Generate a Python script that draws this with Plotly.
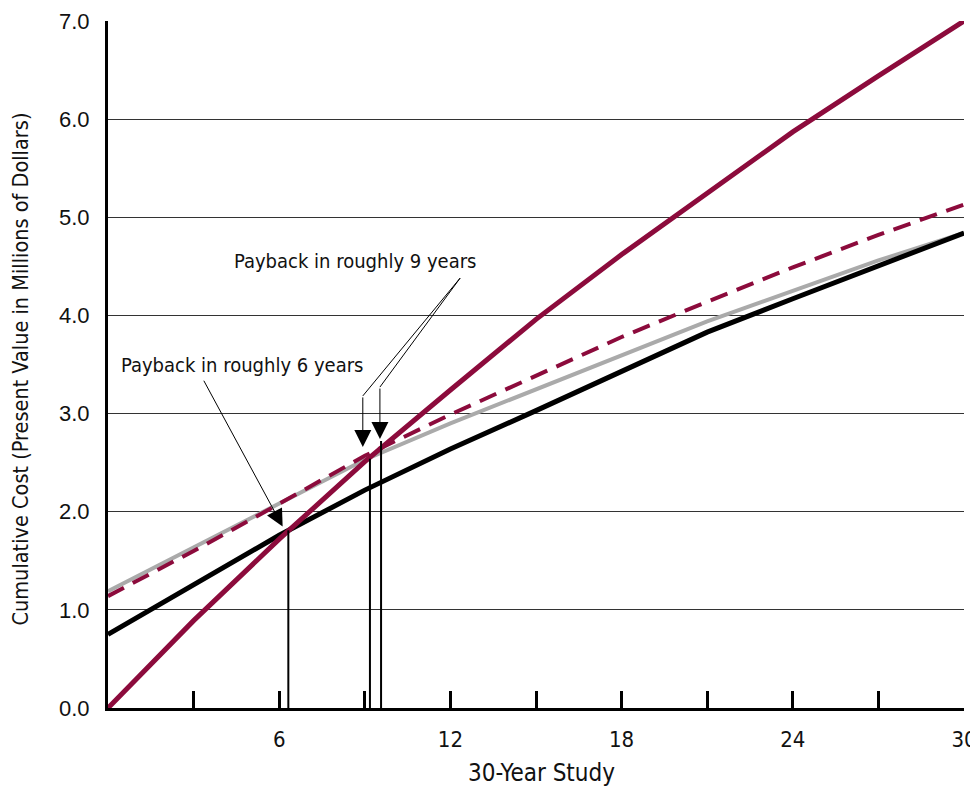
import plotly.graph_objects as go

# ---- data ----
years = [0, 3, 6, 9, 12, 15, 18, 21, 24, 27, 30]
red_solid = [0.00, 0.89, 1.72, 2.51, 3.24, 3.96, 4.62, 5.25, 5.87, 6.44, 7.00]
red_dashed = [1.14, 1.60, 2.08, 2.57, 2.99, 3.38, 3.78, 4.14, 4.49, 4.82, 5.13]
gray_solid = [1.19, 1.64, 2.08, 2.53, 2.90, 3.25, 3.60, 3.94, 4.25, 4.56, 4.84]
black_solid = [0.75, 1.26, 1.76, 2.22, 2.64, 3.03, 3.43, 3.83, 4.17, 4.50, 4.84]

x_tickvals = [3, 6, 9, 12, 15, 18, 21, 24, 27, 30]
x_ticktext = ["", "6", "", "12", "", "18", "", "24", "", "30"]
y_tickvals = [0, 1, 2, 3, 4, 5, 6, 7]
y_ticktext = ["0.0", "1.0", "2.0", "3.0", "4.0", "5.0", "6.0", "7.0"]

payback_years = [6.32, 9.18, 9.57]
payback_heights = [1.81, 2.54, 2.72]

x_title = "30-Year Study"
y_title = "Cumulative Cost (Present Value in Millions of Dollars)"
note6 = "Payback in roughly 6 years"
note9 = "Payback in roughly 9 years"

RED = "#8C0B3C"
NARROW = "DejaVu Sans Condensed, sans-serif"

fig = go.Figure()
fig.add_trace(go.Scatter(x=years, y=gray_solid, mode="lines",
                         line=dict(color="#AAAAAA", width=4)))
fig.add_trace(go.Scatter(x=years, y=red_dashed, mode="lines",
                         line=dict(color=RED, width=4, dash="18px,10px")))
fig.add_trace(go.Scatter(x=years, y=black_solid, mode="lines",
                         line=dict(color="black", width=5)))
fig.add_trace(go.Scatter(x=years, y=red_solid, mode="lines",
                         line=dict(color=RED, width=5)))

shapes = []
for px_, ph in zip(payback_years, payback_heights):
    shapes.append(dict(type="line", xref="x", yref="y", x0=px_, x1=px_, y0=-0.04, y1=ph,
                       line=dict(color="black", width=2)))
# bent leader lines for the 9-year note
shapes.append(dict(type="path", xref="x", yref="y",
                   path="M 12.34 4.38 L 8.93 3.18", line=dict(color="black", width=1)))
shapes.append(dict(type="path", xref="x", yref="y",
                   path="M 12.34 4.38 L 9.53 3.27", line=dict(color="black", width=1)))

annotations = [
    dict(text=note6, x=4.69, y=3.50, xref="x", yref="y", showarrow=False,
         font=dict(family=NARROW, size=20, color="#111111"), xanchor="center", yanchor="middle"),
    dict(text=note9, x=8.65, y=4.55, xref="x", yref="y", showarrow=False,
         font=dict(family=NARROW, size=20, color="#111111"), xanchor="center", yanchor="middle"),
    dict(text="", x=6.12, y=1.85, ax=3.33, ay=3.35, xref="x", yref="y", axref="x", ayref="y",
         showarrow=True, arrowhead=2, arrowsize=3.4, arrowwidth=1, arrowcolor="black"),
    dict(text="", x=8.93, y=2.66, ax=8.93, ay=3.18, xref="x", yref="y", axref="x", ayref="y",
         showarrow=True, arrowhead=2, arrowsize=3.4, arrowwidth=1, arrowcolor="black"),
    dict(text="", x=9.53, y=2.74, ax=9.53, ay=3.27, xref="x", yref="y", axref="x", ayref="y",
         showarrow=True, arrowhead=2, arrowsize=3.4, arrowwidth=1, arrowcolor="black"),
    dict(text=y_title, xref="paper", yref="paper", x=0, y=0.5, xshift=-88, yshift=-5,
         textangle=-90, showarrow=False, xanchor="center", yanchor="middle",
         font=dict(family=NARROW, size=21.5, color="#111111")),
    dict(text=x_title, xref="paper", yref="paper", x=0.5, y=0, xshift=5, yshift=-65,
         showarrow=False, xanchor="center", yanchor="middle",
         font=dict(family=NARROW, size=24, color="#111111")),
]

fig.update_layout(
    width=970, height=782,
    margin=dict(l=100, r=14, t=13, b=82),
    paper_bgcolor="white", plot_bgcolor="white",
    showlegend=False,
    shapes=shapes, annotations=annotations,
    xaxis=dict(range=[0, 30], tickvals=x_tickvals, ticktext=x_ticktext,
               ticks="inside", ticklen=17, tickwidth=2.5, tickcolor="black",
               showline=True, linecolor="black", linewidth=3,
               showgrid=False, zeroline=False, ticklabelstandoff=10, automargin=False,
               ticklabeloverflow="allow",
               tickfont=dict(family=NARROW, size=22, color="#111111")),
    yaxis=dict(range=[0, 7], tickvals=y_tickvals, ticktext=y_ticktext,
               ticks="", showline=True, linecolor="black", linewidth=3,
               showgrid=True, gridcolor="#333333", gridwidth=1, zeroline=False,
               ticklabelstandoff=11, automargin=False, ticklabeloverflow="allow",
               tickfont=dict(family="Liberation Sans, Arial, sans-serif", size=22, color="#111111")),
)

fig.write_html("out.html")
